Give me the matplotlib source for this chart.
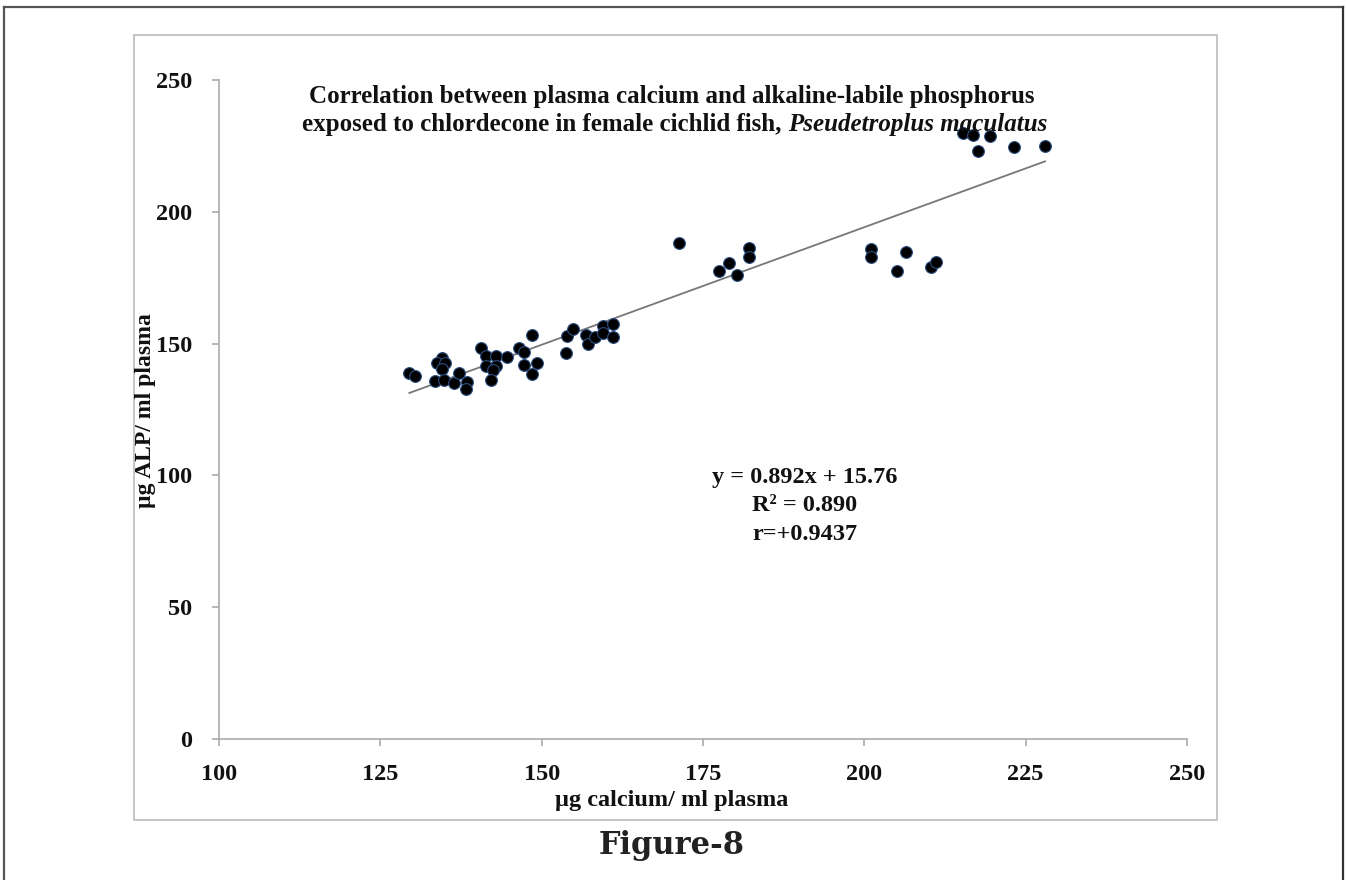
import numpy as np
import matplotlib
matplotlib.use("Agg")
import matplotlib.pyplot as plt
from matplotlib.lines import Line2D
from matplotlib.patches import Rectangle

# data
calcium = [129.5, 130.3, 133.4, 134.5, 133.8, 135.0, 134.5, 134.8, 136.4, 137.2,
           138.4, 138.3, 140.6, 141.4, 143.0, 141.4, 143.0, 142.4, 142.1, 144.7,
           146.5, 147.2, 147.2, 148.5, 149.3, 148.5, 153.9, 154.9, 153.8, 156.9,
           157.2, 158.3, 159.5, 159.5, 161.1, 161.1, 171.3,
           177.5, 179.1, 180.2, 182.2, 182.2, 201.1, 201.1, 206.4, 205.1, 210.3, 211.1,
           215.3, 216.8, 219.5, 217.6, 223.2, 228.0]
alp = [138.7, 137.8, 135.9, 144.4, 142.8, 142.8, 140.3, 136.2, 135.2, 138.7,
       135.5, 132.7, 148.4, 145.3, 145.3, 141.5, 141.5, 140.0, 136.2, 144.8,
       148.4, 146.9, 141.9, 153.3, 142.5, 138.5, 152.9, 155.4, 146.3, 153.3,
       149.8, 152.4, 156.7, 153.9, 157.4, 152.4, 188.2,
       177.7, 180.5, 176.0, 186.1, 183.0, 185.9, 182.7, 184.6, 177.7, 178.9, 180.8,
       229.8, 229.1, 228.8, 223.2, 224.5, 225.0]
slope = 0.892
intercept = 15.76
x_ticks = [100, 125, 150, 175, 200, 225, 250]
y_ticks = [0, 50, 100, 150, 200, 250]

W, H = 1346, 880
fig = plt.figure(figsize=(W / 100, H / 100), dpi=100)
serif = "Liberation Serif"

# outer page frame and inner chart frame
fig.add_artist(Line2D([4 / W, 4 / W], [0, 1 - 7 / H], color="#555555", lw=1.6))
fig.add_artist(Line2D([4 / W, 1343 / W], [1 - 7 / H, 1 - 7 / H], color="#555555", lw=1.6))
fig.add_artist(Line2D([1343 / W, 1343 / W], [0, 1 - 7 / H], color="#333333", lw=1.6))
fig.add_artist(Rectangle((134 / W, 1 - 820 / H), (1217 - 134) / W, (820 - 35) / H,
                         fill=False, edgecolor="#bbbbbb", lw=1.2))

ax = fig.add_axes([219 / W, 1 - 739 / H, (1187 - 219) / W, (739 - 80) / H])
ax.set_xlim(100, 250)
ax.set_ylim(0, 250)
ax.patch.set_alpha(0)
for s in ["top", "right"]:
    ax.spines[s].set_visible(False)
for s in ["left", "bottom"]:
    ax.spines[s].set_color("#aaaaaa")
    ax.spines[s].set_linewidth(1.2)

ax.scatter(calcium, alp, s=72, c="black", edgecolors="#2b4d80", linewidths=0.8, zorder=3)

xs = np.array([min(calcium), max(calcium)])
ax.plot(xs, slope * xs + intercept, color="#777777", lw=1.3, zorder=2)

ax.set_xticks(x_ticks)
ax.set_yticks(y_ticks)
ax.tick_params(direction="out", length=5, width=1.2, color="#aaaaaa",
               labelsize=17.5, labelcolor="#111111")
ax.tick_params(axis="x", pad=13)
ax.tick_params(axis="y", pad=14)
for lbl in ax.get_xticklabels() + ax.get_yticklabels():
    lbl.set_fontfamily(serif)
    lbl.set_fontweight("bold")

fig.text(672 / W, 1 - 800 / H, "µg calcium/ ml plasma", ha="center", va="center",
         fontsize=17.5, fontweight="bold", family=serif, color="#111111")
fig.text(145 / W, 1 - 411 / H, "µg ALP/ ml plasma", ha="center", va="center", rotation=90,
         fontsize=17, fontweight="bold", family=serif, color="#111111")

eq_lines = ["y = %.3fx + %.2f" % (slope, intercept), "R² = 0.890", "r=+0.9437"]
for i, t in enumerate(eq_lines):
    fig.text(805 / W, 1 - (477 + 28.5 * i) / H, t, ha="center", va="center",
             fontsize=17.5, fontweight="bold", family=serif, color="#111111")

# title, second line mixes bold and bold italic
fig.text(672 / W, 1 - 97 / H, "Correlation between plasma calcium and alkaline-labile phosphorus",
         ha="center", va="center", fontsize=18, fontweight="bold", family=serif, color="#111111")
r = fig.canvas.get_renderer()
t1 = fig.text(0, 1 - 125 / H, "exposed to chlordecone in female cichlid fish, ", ha="left", va="center",
              fontsize=18, fontweight="bold", family=serif, color="#111111")
t2 = fig.text(0, 1 - 125 / H, "Pseudetroplus maculatus", ha="left", va="center",
              fontsize=18, fontweight="bold", style="italic", family=serif, color="#111111")
w1 = t1.get_window_extent(r).width
w2 = t2.get_window_extent(r).width
x0 = 675 - (w1 + w2) / 2
t1.set_x(x0 / W)
t2.set_x((x0 + w1) / W)

fig.text(672 / W, 1 - 845 / H, "Figure-8", ha="center", va="center",
         fontsize=22, fontweight="bold", family="DejaVu Serif", color="#222222")

fig.savefig("out.png", dpi=100)
